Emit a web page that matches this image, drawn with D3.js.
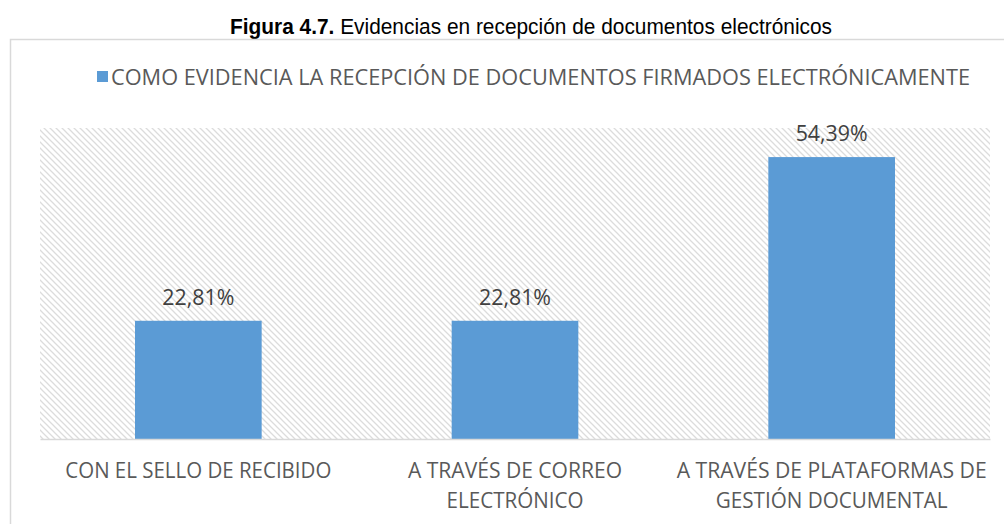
<!DOCTYPE html>
<html>
<head>
<meta charset="utf-8">
<script src="https://cdnjs.cloudflare.com/ajax/libs/d3/7.8.5/d3.min.js"></script>
<style>
  body { margin: 0; background: #fff; }
  svg { display: block; }
</style>
</head>
<body>
<div id="chart"></div>
<script>
// datos
var categories = [
  ["CON EL SELLO DE RECIBIDO"],
  ["A TRAVÉS DE CORREO", "ELECTRÓNICO"],
  ["A TRAVÉS DE PLATAFORMAS DE", "GESTIÓN DOCUMENTAL"]
];
var labelWidths = [[266], [214, 137], [310, 232]];
var values = [22.81, 22.81, 54.39];
var seriesName = "COMO EVIDENCIA LA RECEPCIÓN DE DOCUMENTOS FIRMADOS ELECTRÓNICAMENTE";

var W = 1004, H = 524;
var plot = { left: 40, right: 990, top: 128, bottom: 439 };
var font = "'Open Sans', 'Noto Sans', sans-serif";

var svg = d3.select("#chart").append("svg")
    .attr("width", W)
    .attr("height", H);

// patron de rayas del area de trazado
var defs = svg.append("defs");
var pat = defs.append("pattern")
    .attr("id", "hatch")
    .attr("patternUnits", "userSpaceOnUse")
    .attr("width", 6)
    .attr("height", 6);
pat.append("path")
    .attr("d", "M-1,-1 L7,7 M-1,5 L1,7 M5,-1 L7,1")
    .attr("stroke", "#dcdcdc")
    .attr("stroke-width", 1.3);

// titulo
var title = svg.append("text")
    .attr("x", 230)
    .attr("y", 34)
    .attr("textLength", 602)
    .attr("lengthAdjust", "spacingAndGlyphs")
    .style("font-family", "'Liberation Sans Narrow', 'Arial Narrow', 'Liberation Sans', sans-serif")
    .style("font-size", "22px")
    .attr("fill", "#000");
title.append("tspan").style("font-weight", "bold").text("Figura 4.7.");
title.append("tspan").text(" Evidencias en recepción de documentos electrónicos");

// borde del grafico
svg.append("rect")
    .attr("x", 10.5)
    .attr("y", 39.5)
    .attr("width", 1010)
    .attr("height", 500)
    .attr("fill", "none")
    .attr("stroke", "#d9d9d9")
    .attr("stroke-width", 1.5);

var x = d3.scaleBand()
    .domain(d3.range(values.length))
    .range([plot.left, plot.right])
    .paddingInner(0.6)
    .paddingOuter(0.3);

var y = d3.scaleLinear()
    .domain([0, 60])
    .range([plot.bottom, plot.top]);

svg.append("rect")
    .attr("x", plot.left)
    .attr("y", plot.top)
    .attr("width", plot.right - plot.left)
    .attr("height", plot.bottom - plot.top)
    .attr("fill", "url(#hatch)");

// leyenda
svg.append("rect")
    .attr("x", 97)
    .attr("y", 71)
    .attr("width", 11)
    .attr("height", 11)
    .attr("fill", "#5b9bd5");
svg.append("text")
    .attr("x", 111)
    .attr("y", 85)
    .style("font-family", font)
    .style("font-size", "22px")
    .attr("fill", "#595959")
    .attr("textLength", 859)
    .attr("lengthAdjust", "spacingAndGlyphs")
    .text(seriesName);

// barras
svg.append("g").selectAll("rect")
    .data(values)
    .enter().append("rect")
    .attr("x", function(d, i) { return x(i); })
    .attr("y", function(d) { return y(d); })
    .attr("width", x.bandwidth())
    .attr("height", function(d) { return y(0) - y(d); })
    .attr("fill", "#5b9bd5");

// etiquetas de datos
svg.append("g").selectAll("text")
    .data(values)
    .enter().append("text")
    .attr("x", function(d, i) { return x(i) + x.bandwidth() / 2 - 36; })
    .attr("y", function(d) { return y(d) - 16; })
    .attr("textLength", 72)
    .attr("lengthAdjust", "spacingAndGlyphs")
    .style("font-family", font)
    .style("font-size", "22px")
    .attr("fill", "#404040")
    .text(function(d) { return d.toFixed(2).replace(".", ",") + "%"; });

// eje x
var xAxis = svg.append("g")
    .attr("transform", "translate(0," + plot.bottom + ")")
    .call(d3.axisBottom(x).tickSize(0).tickFormat(""));
xAxis.select(".domain").attr("stroke", "#d9d9d9").attr("stroke-width", 1.5);

svg.append("g").selectAll("g")
    .data(categories)
    .enter().append("g")
    .each(function(d, i) {
      var g = d3.select(this);
      var cx = x(i) + x.bandwidth() / 2;
      d.forEach(function(line, k) {
        var w = labelWidths[i][k];
        g.append("text")
          .attr("x", cx - w / 2)
          .attr("y", 478 + k * 30)
          .attr("textLength", w)
          .attr("lengthAdjust", "spacingAndGlyphs")
          .style("font-family", font)
          .style("font-size", "22px")
          .attr("fill", "#595959")
          .text(line);
      });
    });
</script>
</body>
</html>
